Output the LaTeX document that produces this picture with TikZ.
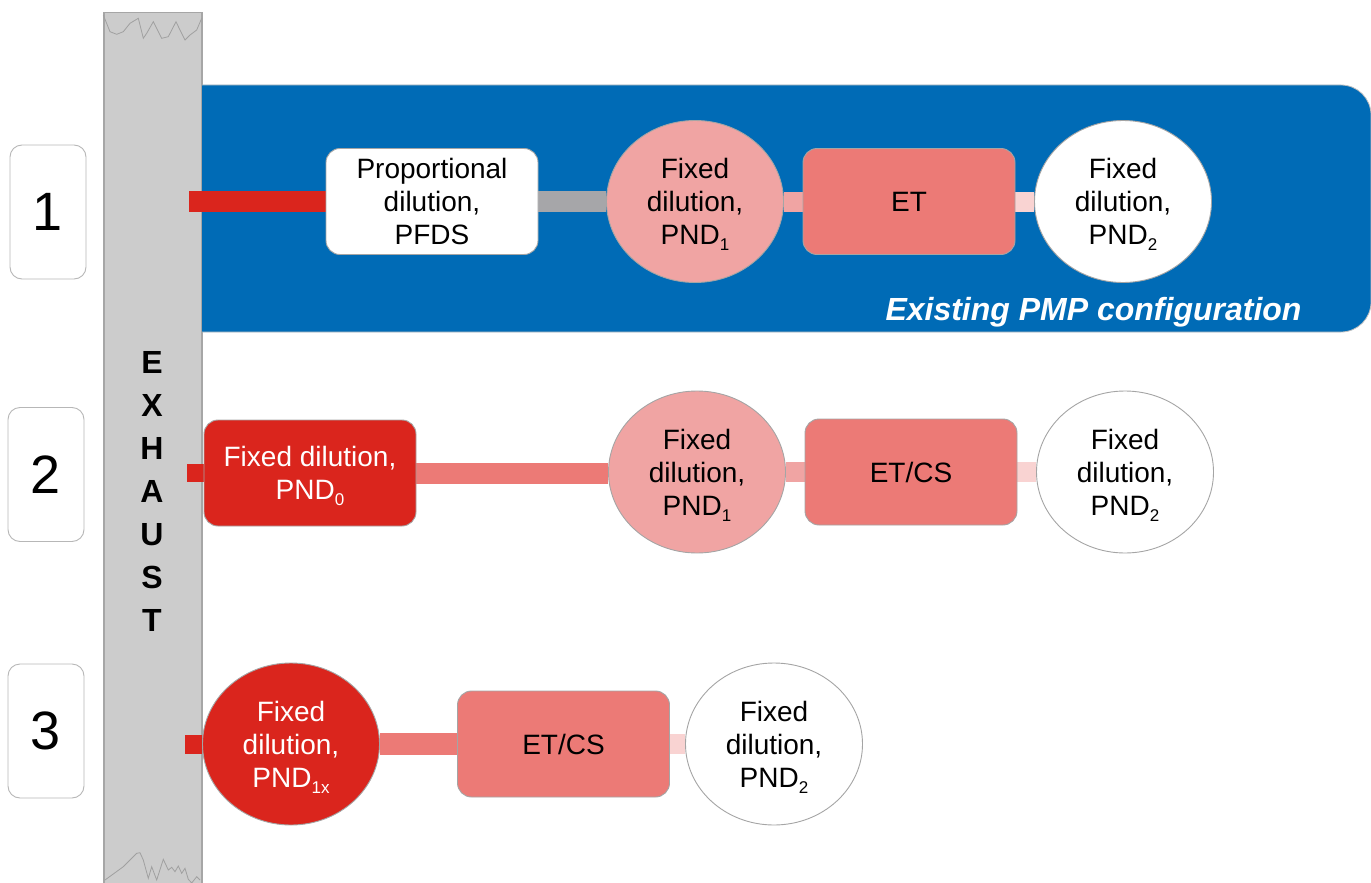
\documentclass[tikz,border=0pt]{standalone}
\usepackage{fontspec}
\setmainfont{Liberation Sans}
\usetikzlibrary{shapes.geometric,backgrounds}
\definecolor{bannerblue}{RGB}{0,107,182}
\definecolor{exgray}{RGB}{204,204,204}
\definecolor{exedge}{RGB}{166,166,166}
\definecolor{wavegray}{RGB}{160,160,160}
\definecolor{pmpred}{RGB}{218,37,29}
\definecolor{salmon}{RGB}{236,122,118}
\definecolor{rosy}{RGB}{240,164,163}
\definecolor{blush}{RGB}{249,211,210}
\definecolor{bargray}{RGB}{166,166,169}
\definecolor{edgegray}{RGB}{165,165,165}
\newcommand\subt[1]{\raisebox{-0.22em}[0pt][0pt]{\fontsize{17}{17}\selectfont #1}}
\begin{document}
\begin{tikzpicture}[x=1pt,y=-1pt,
 base/.style={draw=edgegray, line width=0.9pt, inner sep=0pt, align=center, font=\fontsize{28}{33}\selectfont},
 boxnode/.style={base, rectangle, rounded corners=14pt, minimum width=212pt, minimum height=106pt},
 ellnode/.style={base, ellipse, minimum width=177pt, minimum height=162pt},
 numbox/.style={draw=edgegray!80, line width=0.9pt, rounded corners=12pt, minimum width=76pt, minimum height=134pt, inner sep=0pt, fill=white, font=\fontsize{54}{54}\selectfont},
 pipe/.style={line width=#1pt, line cap=butt},
]
\useasboundingbox (0,0) rectangle (1371,883);

% row numbers
\node[numbox] (n1) at (48,212) {1};
\node[numbox] (n2) at (46,474.5) {2};
\node[numbox] (n3) at (46,731) {3};

% exhaust label
\node[font=\bfseries\fontsize{32}{43}\selectfont, align=center, inner sep=0pt] (exh) at (152,491) {E\\X\\H\\A\\U\\S\\T};

% banner label
\node[anchor=base, text=white, font=\bfseries\itshape\fontsize{32}{32}\selectfont, inner sep=0pt] (cfg) at (1093.5,320) {Existing PMP configuration};

% row 1
\node[boxnode, fill=white] (pfds) at (432,201.5) {Proportional\\dilution,\\PFDS};
\node[ellnode, fill=rosy] (pnd1a) at (695,201.5) {Fixed\\dilution,\\PND\subt{1}};
\node[boxnode, fill=salmon] (et1) at (909,201.5) {ET};
\node[ellnode, fill=white] (pnd2a) at (1123,201.5) {Fixed\\dilution,\\PND\subt{2}};
\coordinate (s1) at (189,201.5);

% row 2
\node[boxnode, fill=pmpred, text=white] (pnd0) at (310,473) {Fixed dilution,\\PND\subt{0}};
\node[ellnode, fill=rosy] (pnd1b) at (697,472) {Fixed\\dilution,\\PND\subt{1}};
\node[boxnode, fill=salmon] (etcs2) at (911,472) {ET/CS};
\node[ellnode, fill=white] (pnd2b) at (1125,472) {Fixed\\dilution,\\PND\subt{2}};
\coordinate (s2) at (187,473);

% row 3
\node[ellnode, fill=pmpred, text=white] (pnd1x) at (291,744) {Fixed\\dilution,\\PND\subt{1x}};
\node[boxnode, fill=salmon] (etcs3) at (563.5,744) {ET/CS};
\node[ellnode, fill=white] (pnd2c) at (774,744) {Fixed\\dilution,\\PND\subt{2}};
\coordinate (s3) at (185,744);

\begin{scope}[on background layer]
 % exhaust stack
 \fill[exgray] (104,12.7) rectangle (202,884);
 \draw[exedge, line width=1.2pt] (104,884) -- (104,12.7) -- (202,12.7) -- (202,884);
 \draw[wavegray, line width=0.8pt] (103.3,15) -- (110,31.7) -- (116.7,34.3) -- (123.3,31.7) -- (130,23.3) -- (138.3,18.3) -- (143.3,38.3) -- (146.7,33.3) -- (153.3,21.7) -- (161.7,38.3) -- (168.3,36.7) -- (176,21.7) -- (180,30) -- (185,40) -- (190,35) -- (196.7,30) -- (201.7,18.3);
 \draw[wavegray, line width=0.8pt] (105,880) -- (123.3,866.7) -- (136.7,853.3) -- (140,852.7) -- (143.3,860) -- (148.3,878.3) -- (151.7,866.7) -- (156.7,880) -- (163.3,859.3) -- (168.3,870) -- (171.7,867.3) -- (175,871.7) -- (178.3,866) -- (181.7,873.3) -- (185,868.3) -- (188.3,879.3) -- (191.7,883) -- (196.7,876.7) -- (200,880);
 % banner
 \filldraw[fill=bannerblue, draw=edgegray!70, line width=0.8pt] (202,85) -- (800,85) [rounded corners=30pt] -- (1371,85) -- (1371,332) -- (800,332) [sharp corners] -- (202,332);
 % connectors
 \draw[pipe=21, pmpred] (s1) -- (pfds.west);
 \draw[pipe=21, bargray] (pfds.east) -- (pnd1a.west);
 \draw[pipe=20, rosy] (pnd1a.east) -- (et1.west);
 \draw[pipe=20, blush] (et1.east) -- (pnd2a.west);
 \draw[pipe=18, pmpred] (s2) -- (pnd0.west);
 \draw[pipe=21, salmon] (pnd0.east) -- (pnd0.east -| pnd1b.west);
 \draw[pipe=20, rosy] (pnd1b.east) -- (etcs2.west);
 \draw[pipe=20, blush] (etcs2.east) -- (pnd2b.west);
 \draw[pipe=19, pmpred] (s3) -- (pnd1x.west);
 \draw[pipe=22, salmon] (pnd1x.east) -- (etcs3.west);
 \draw[pipe=20, blush] (etcs3.east) -- (pnd2c.west);
\end{scope}
\end{tikzpicture}
\end{document}
